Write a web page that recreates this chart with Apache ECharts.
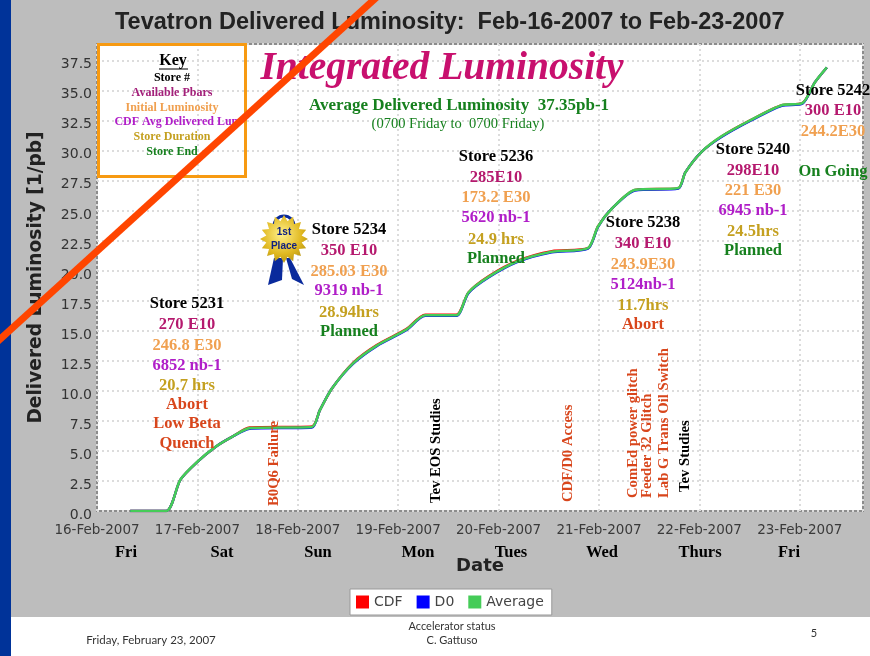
<!DOCTYPE html>
<html><head><meta charset="utf-8">
<style>html,body{margin:0;padding:0;background:#bdbdbd}#c{width:870px;height:656px}</style>
<script src="https://cdn.jsdelivr.net/npm/echarts@6/dist/echarts.min.js"></script></head>
<body><div id="c"></div>
<script>
// Data (x = days after 16-Feb-2007 00:00)
const dateTicks = ['16-Feb-2007','17-Feb-2007','18-Feb-2007','19-Feb-2007','20-Feb-2007','21-Feb-2007','22-Feb-2007','23-Feb-2007'];
const dayNames = ['Fri','Sat','Sun','Mon','Tues','Wed','Thurs','Fri'];
const days = [0.33,0.69,0.83,1.0,1.19,1.35,1.52,2.14,2.22,2.34,2.55,2.79,3.08,3.27,3.58,3.7,3.9,4.19,4.53,4.89,4.99,5.13,5.36,5.79,5.86,6.02,6.22,6.52,6.82,7.03,7.15,7.27];
const average = [0,0,2.6,4.1,5.4,6.2,6.9,7.0,8.4,10.2,12.3,13.8,15.1,16.3,16.3,18.2,19.5,20.8,21.6,21.9,23.7,25.2,26.75,26.9,28.2,29.9,31.2,32.6,33.8,34.0,35.7,36.95];
const cdf =     [0,0,2.6,4.1,5.4,6.2,6.95,7.05,8.4,10.2,12.35,13.85,15.15,16.35,16.35,18.2,19.55,20.85,21.65,21.9,23.7,25.2,26.75,26.9,28.2,29.9,31.2,32.6,33.8,34.0,35.7,36.95];
const d0 =      [0,0,2.6,4.1,5.4,6.2,6.85,6.95,8.4,10.2,12.25,13.75,15.05,16.25,16.25,18.15,19.45,20.75,21.55,21.85,23.65,25.2,26.7,26.85,28.2,29.9,31.15,32.55,33.75,33.95,35.7,36.95];
const seriesNames = ['CDF','D0','Average'];

const stores = [
 ['Store 5231','270 E10','246.8 E30','6852 nb-1','20.7 hrs','Abort','Low Beta','Quench'],
 ['Store 5234','350 E10','285.03 E30','9319 nb-1','28.94hrs','Planned'],
 ['Store 5236','285E10','173.2 E30','5620 nb-1','24.9 hrs','Planned'],
 ['Store 5238','340 E10','243.9E30','5124nb-1','11.7hrs','Abort'],
 ['Store 5240','298E10','221 E30','6945 nb-1','24.5hrs','Planned'],
 ['Store 5242','300 E10','244.2E30','On Going']
];
const keyLines = ['Store #','Available Pbars','Initial Luminosity','CDF Avg Delivered Lum','Store Duration','Store End'];
const incidents = ['B0Q6 Failure','Tev EOS Studies','CDF/D0 Access','ComEd power glitch','Feeder 32 Glitch','Lab G Trans Oil Switch','Tev Studies'];

// Layout and style
const C = {black:'#000',pbar:'#b5196e',lumi:'#f0a050',deliv:'#b01ec8',dur:'#c4a020',end:'#16801e',abort:'#d8461c',pink:'#c8106e'};
const storeLayout = [
 {x:187,ys:[304,325,346,366,386,405,424,444],colors:[C.black,C.pbar,C.lumi,C.deliv,C.dur,C.abort,C.abort,C.abort]},
 {x:349,ys:[230,251,272,291,313,332],colors:[C.black,C.pbar,C.lumi,C.deliv,C.dur,C.end]},
 {x:496,ys:[157,178,198,218,240,259],colors:[C.black,C.pbar,C.lumi,C.deliv,C.dur,C.end]},
 {x:643,ys:[223,244,265,285,306,325],colors:[C.black,C.pbar,C.lumi,C.deliv,C.dur,C.abort]},
 {x:753,ys:[150,171,191,211,232,251],colors:[C.black,C.pbar,C.lumi,C.deliv,C.dur,C.end]},
 {x:833,ys:[91,111,132,172],colors:[C.black,C.pbar,C.lumi,C.end]}
];
const incidentLayout = [
 {x:274,y:506,c:C.abort},{x:436,y:503,c:C.black},{x:568,y:502,c:C.abort},
 {x:633,y:498,c:C.abort},{x:647,y:498,c:C.abort},{x:664,y:498,c:C.abort},{x:685,y:492,c:C.black}
];
const dayX = [126,222,318,418,511,602,700,789];
const keyY = [78,93,108,122,137,152];
const keyC = [C.black,'#a3207a',C.lumi,C.deliv,C.dur,C.end];
const serif = '"Liberation Serif"';

function txt(text,x,y,color,size,extra){
  return Object.assign({type:'text',x,y,z:20,silent:true,style:Object.assign({text,fill:color,
    font:`bold ${size}px ${serif}`,textAlign:'center',textVerticalAlign:'middle'},extra&&extra.style||{})},extra&&extra.el||{});
}
const g = [];
g.push({type:'rect',z:1,shape:{x:0,y:617,width:870,height:39},style:{fill:'#fff'}});
g.push({type:'rect',z:2,shape:{x:0,y:0,width:11,height:656},style:{fill:'#003399'}});
g.push({type:'rect',z:15,shape:{x:98.5,y:44.5,width:147,height:132},style:{fill:'none',stroke:'#f79a12',lineWidth:3}});
g.push(txt('Key',173,61,C.black,16));
g.push({type:'line',z:20,shape:{x1:159,y1:69,x2:188,y2:69},style:{stroke:'#000',lineWidth:1}});
keyLines.forEach((t,i)=>g.push(txt(t,i===3?178:172,keyY[i],keyC[i],12)));
g.push(txt('Integrated Luminosity',442,69,C.pink,39.5,{style:{font:`italic bold 39.5px ${serif}`}}));
g.push(txt('Average Delivered Luminosity  37.35pb-1',459,106,C.end,17));
g.push(txt('(0700 Friday to  0700 Friday)',458,124,C.end,14.5,{style:{font:`14.5px ${serif}`}}));
stores.forEach((lines,s)=>{const L=storeLayout[s];
  lines.forEach((t,i)=>g.push(txt(t,L.x,L.ys[i],L.colors[i],16.5)));});
incidents.forEach((t,i)=>{const L=incidentLayout[i];
  g.push(txt(t,L.x,L.y,L.c,14.7,{el:{rotation:Math.PI/2},style:{textAlign:'left'}}));});
dayNames.forEach((t,i)=>g.push(txt(t,dayX[i],553,C.black,16.5)));
const sans='"Liberation Sans"', foot='Lato';
g.push(txt('Friday, February 23, 2007',151,640,'#333',11.5,{style:{font:`11.5px ${foot}`}}));
g.push(txt('Accelerator status',452,626,'#333',11,{style:{font:`11px ${foot}`}}));
g.push(txt('C. Gattuso',452,640,'#333',11,{style:{font:`11px ${foot}`}}));
g.push(txt('5',814,633,'#333',11,{style:{font:`11px ${foot}`}}));
// Ribbon badge
const star=[];for(let i=0;i<32;i++){const r=i%2?18:24,a=i/32*2*Math.PI;star.push([284+r*Math.cos(a),239+r*Math.sin(a)]);}
const blue='#0a2a9c';
g.push({type:'polygon',z:16,shape:{points:[[274,258],[268,285],[282,280],[283,258]]},style:{fill:blue}});
g.push({type:'polygon',z:16,shape:{points:[[290,258],[304,285],[292,279],[286,258]]},style:{fill:blue}});
g.push({type:'arc',z:16,shape:{cx:284,cy:226,r:10,startAngle:Math.PI,endAngle:2*Math.PI},style:{stroke:blue,fill:'none',lineWidth:3}});
g.push({type:'polygon',z:17,shape:{points:star},style:{fill:new echarts.graphic.RadialGradient(0.45,0.4,0.7,[{offset:0,color:'#fff08a'},{offset:0.6,color:'#e0b820'},{offset:1,color:'#a88810'}])}});
g.push(txt('1st',284,232,'#102080',10,{style:{font:'bold 10px '+sans}}));
g.push(txt('Place',284,246,'#102080',10,{style:{font:'bold 10px '+sans}}));
// Strike-through line
g.push({type:'line',z:30,shape:{x1:-3,y1:342,x2:378,y2:-4},style:{stroke:'#ff4500',lineWidth:7}});

const chart = echarts.init(document.getElementById('c'),null,{renderer:'canvas'});
const toPairs = a => days.map((d,i)=>[d,a[i]]);
const lineOf = (name,data,color,w)=>({name,type:'line',data:toPairs(data),symbol:'none',smooth:0.25,
  lineStyle:{color,width:w},itemStyle:{color},emphasis:{disabled:true},z:3});
chart.setOption({
  animation:false,backgroundColor:'#bdbdbd',
  title:{text:'Tevatron Delivered Luminosity:  Feb-16-2007 to Feb-23-2007',left:110,top:6,
    textStyle:{fontFamily:sans,fontWeight:'bold',fontSize:23.5,color:'#222'}},
  grid:{left:97,right:7,top:44,bottom:145,show:true,backgroundColor:'#fff',borderColor:'#8c8c8c',borderWidth:2},
  legend:{data:seriesNames,left:350,top:589,icon:'rect',itemWidth:13,itemHeight:13,itemGap:14,padding:[6,8,6,6],
    backgroundColor:'#fff',borderColor:'#999',borderWidth:1,
    textStyle:{fontFamily:'"DejaVu Sans"',fontSize:14,color:'#444'}},
  xAxis:{type:'value',min:0,max:7.63,interval:1,name:'Date',nameLocation:'middle',nameGap:46,
    nameTextStyle:{fontFamily:'"DejaVu Sans"',fontWeight:'bold',fontSize:18,color:'#222'},
    axisLine:{show:false},axisTick:{show:false},
    axisLabel:{margin:12,showMaxLabel:false,fontFamily:'"DejaVu Sans"',fontSize:13.5,color:'#3a3a3a',
      formatter:v=>dateTicks[v]||''},
    splitLine:{show:true,lineStyle:{color:'#dcdcdc',type:[2,3],width:2}}},
  yAxis:{type:'value',min:0,max:38.9,interval:2.5,name:'Delivered Luminosity [1/pb]',nameLocation:'middle',nameGap:51,
    nameTextStyle:{fontFamily:'"DejaVu Sans"',fontWeight:'bold',fontSize:18.6,color:'#222'},
    axisLine:{show:false},axisTick:{show:false},
    axisLabel:{margin:5,showMaxLabel:false,fontFamily:'"DejaVu Sans"',fontSize:14,color:'#333',verticalAlign:'top',lineHeight:8,
      formatter:v=>v.toFixed(1)},
    splitLine:{show:true,lineStyle:{color:'#dcdcdc',type:[2,3],width:2}}},
  series:[lineOf('CDF',cdf,'#ff0000',2.4),lineOf('D0',d0,'#0000ff',2.4),lineOf('Average',average,'#45cc58',2.6)],
  graphic:g
});
</script></body></html>
